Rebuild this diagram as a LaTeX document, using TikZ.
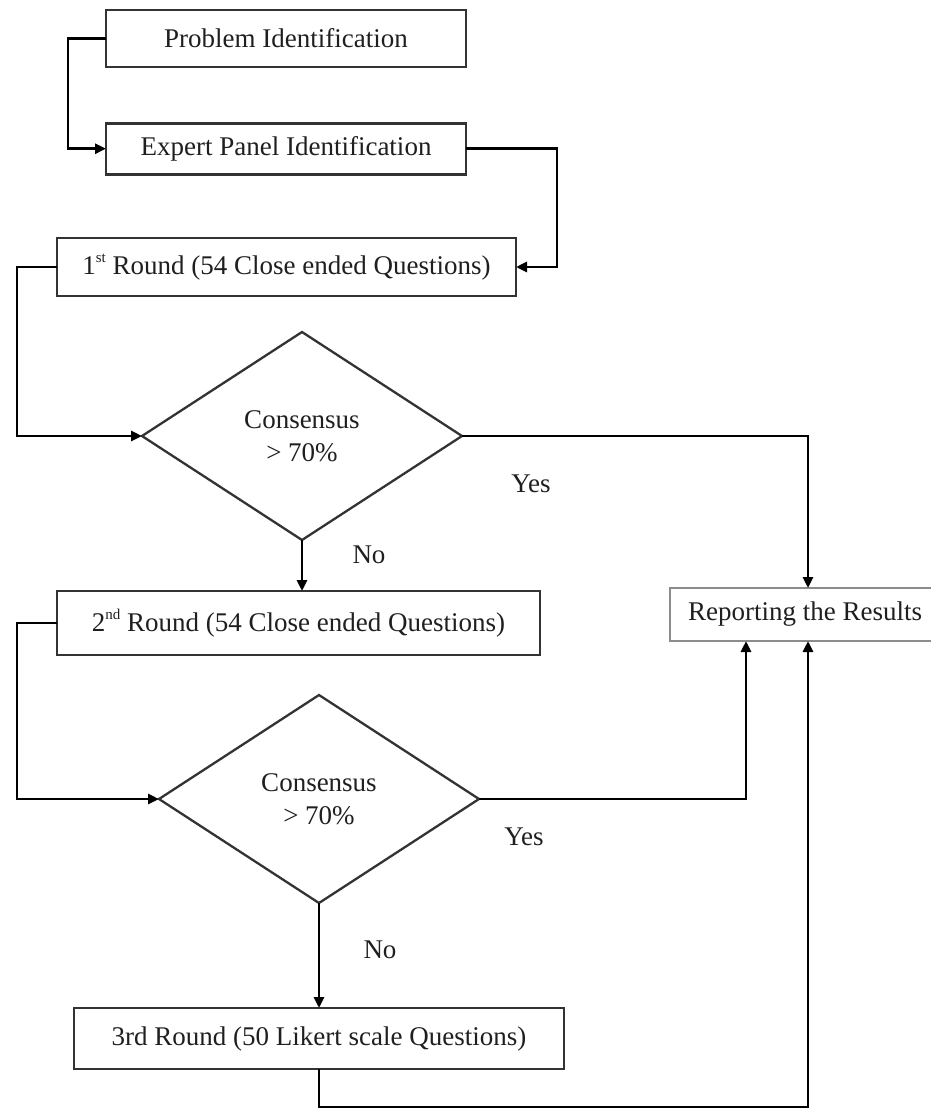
\documentclass[tikz,border=0pt]{standalone}
\usepackage{fontspec}
\setmainfont{Liberation Serif}
\usetikzlibrary{shapes.geometric,arrows.meta}

% small raised ordinal suffix
\newcommand{\ordsuffix}[1]{\raisebox{0.45em}{\fontsize{15}{15}\selectfont #1}}

\begin{document}
\begin{tikzpicture}[x=1pt,y=-1pt,
  every node/.style={font=\fontsize{27}{33}\selectfont, text=black!88},
  stepbox/.style={draw=black!80, line width=2.6pt, rectangle, inner sep=0pt, outer sep=0pt},
  reportbox/.style={draw=black!45, line width=1.4pt, rectangle, inner sep=0pt, outer sep=0pt},
  decision/.style={draw=black!80, line width=2.3pt, diamond, inner sep=0pt, outer sep=0pt,
    align=center, minimum width=320pt, minimum height=208pt, shape aspect=1.54},
  link/.style={draw=black, line width=2.9pt},
  arr/.style={link, -{Triangle[length=11pt,width=10pt]}},
  answer/.style={inner sep=0pt}
]
\useasboundingbox (0,0) rectangle (930,1109);

% process boxes
\node[stepbox, minimum width=360pt, minimum height=57pt] (p1) at (286,38.5) {Problem Identification};
\node[stepbox, minimum width=360pt, minimum height=51pt] (p2) at (286,148.7) {Expert Panel Identification};
\node[stepbox, minimum width=459pt, minimum height=58pt] (r1) at (286.5,267) {1\ordsuffix{st} Round (54 Close ended Questions)};
\node[stepbox, minimum width=483pt, minimum height=64pt] (r2) at (298.5,623) {2\ordsuffix{nd} Round (54 Close ended Questions)};
\node[stepbox, minimum width=490pt, minimum height=61pt] (r3) at (319,1038.5) {3rd Round (50 Likert scale Questions)};

% outcome box (runs past the right margin)
\node[reportbox, minimum width=270pt, minimum height=53pt] (rep) at (805,614.5) {Reporting the Results};

% decisions
\node[decision] (d1) at (302,436) {Consensus\\> 70\%};
\node[decision] (d2) at (319,799) {Consensus\\> 70\%};

% connectors
\draw[arr] (p1.west) -- ++(-38,0) |- (p2.west);
\draw[arr] (p2.east) -- ++(91,0) |- (r1.east);
\draw[arr] (r1.west) -- ++(-40,0) |- (d1.west);
\draw[arr] (d1.east) -| ([xshift=3pt]rep.north);
\draw[arr] (d1.south) -- (d1.south |- r2.north);
\draw[arr] (r2.west) -- ++(-40,0) |- (d2.west);
\draw[arr] (d2.east) -| ([xshift=-59pt]rep.south);
\draw[arr] (d2.south) -- (r3.north);
\draw[arr] (r3.south) -- ++(0,38) -| ([xshift=3pt]rep.south);

% branch labels
\node[answer] (y1) at (531,484) {Yes};
\node[answer] (n1) at (369,555) {No};
\node[answer] (y2) at (524,837) {Yes};
\node[answer] (n2) at (380,950) {No};
\end{tikzpicture}
\end{document}
